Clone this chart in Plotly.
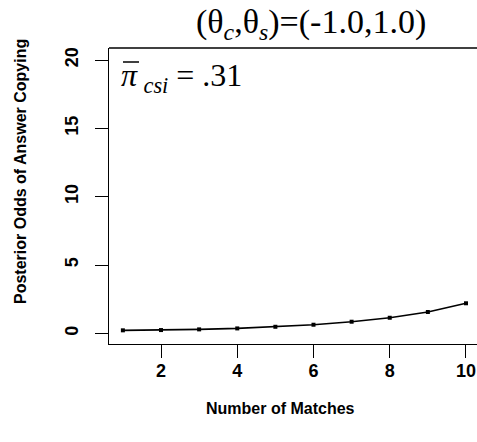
import plotly.graph_objects as go

matches = [1, 2, 3, 4, 5, 6, 7, 8, 9, 10]
posterior_odds = [0.22, 0.24, 0.29, 0.36, 0.48, 0.63, 0.85, 1.14, 1.56, 2.2]
x_ticks = [2, 4, 6, 8, 10]
y_ticks = [0, 5, 10, 15, 20]

W, H = 477, 442
PL, PT, PR, PB = 109, 48, 477, 344  # plot area in window pixels
L, T, R, B = PL, PT, W - PR, H - PB

fig = go.Figure()
fig.add_trace(go.Scatter(
    x=matches, y=posterior_odds, mode="lines+markers",
    line=dict(color="black", width=1.6),
    marker=dict(color="black", size=4, symbol="square"),
    showlegend=False, hoverinfo="skip"))

tickfont = dict(family="Liberation Sans, Arial, sans-serif", size=18, color="black", weight="bold")

fig.update_layout(
    width=W, height=H,
    margin=dict(l=L, r=R, t=T, b=B, pad=0),
    paper_bgcolor="white", plot_bgcolor="white",
    xaxis=dict(range=[0.636, 10.289], tickvals=x_ticks, ticktext=[str(v) for v in x_ticks],
               showgrid=False, zeroline=False, showline=True, linecolor="black", linewidth=1.3,
               ticks="outside", ticklen=13, tickwidth=1.3, tickcolor="black", tickfont=tickfont,
               ticklabelstandoff=-3),
    yaxis=dict(range=[-0.78, 20.88], tickvals=y_ticks, ticktext=[str(v) for v in y_ticks],
               showgrid=False, zeroline=False, showline=True, linecolor="black", linewidth=1.3,
               ticks="outside", ticklen=13, tickwidth=1.3, tickcolor="black", tickfont=tickfont,
               tickangle=-90, ticklabelstandoff=10),
)

# top border of the box
fig.add_shape(type="line", xref="paper", yref="paper", x0=0, x1=1, y0=1, y1=1,
              line=dict(color="black", width=1.3))

pw, ph = PR - PL, PB - PT
def px(xp):
    return (xp - PL) / pw
def py(yp):
    return (PB - yp) / ph

serif = "Liberation Serif, Times New Roman, serif"
# title
fig.add_annotation(text="(θ<sub><i>c</i></sub>,θ<sub><i>s</i></sub>)=(-1.0,1.0)",
                   xref="paper", yref="paper", x=px(311), y=py(24), showarrow=False,
                   xanchor="center", yanchor="middle",
                   font=dict(family=serif, size=34, color="black"))
# pi bar annotation
fig.add_annotation(text="<i>π</i>\u2009<sub><i>csi</i></sub> = .31",
                   xref="paper", yref="paper", x=px(119), y=py(78), showarrow=False,
                   xanchor="left", yanchor="middle",
                   font=dict(family=serif, size=32, color="black"))
fig.add_shape(type="line", xref="paper", yref="paper", x0=px(123), x1=px(139),
              y0=py(62), y1=py(62), line=dict(color="black", width=1.5))

sans_bold = dict(family="Liberation Sans, Arial, sans-serif", size=16, color="black", weight="bold")
fig.add_annotation(text="Number of Matches", xref="paper", yref="paper",
                   x=px(280), y=py(408), showarrow=False, xanchor="center", yanchor="middle",
                   font=sans_bold)
fig.add_annotation(text="Posterior Odds of Answer Copying", xref="paper", yref="paper",
                   x=px(20), y=py(172), showarrow=False, xanchor="center", yanchor="middle",
                   textangle=-90, font=sans_bold)

fig.write_html("out.html", config={"displayModeBar": False},
               post_script="document.body.style.margin='0';document.body.style.overflow='hidden';")
